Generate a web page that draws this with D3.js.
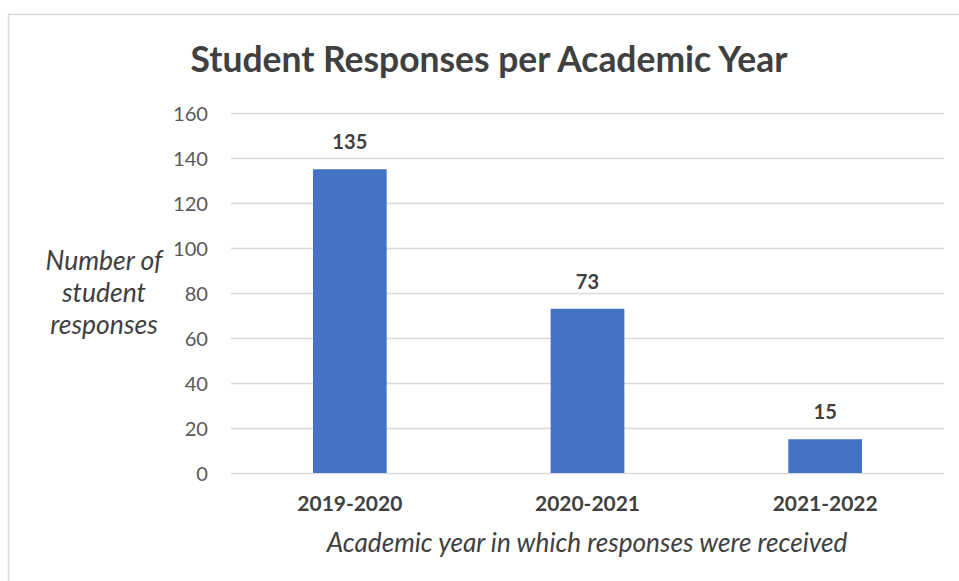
<!DOCTYPE html>
<html><head><meta charset="utf-8">
<script src="https://cdn.jsdelivr.net/npm/d3@7"></script>
<style>body{margin:0;background:#fff;}svg{display:block;font-family:Lato,"Open Sans",sans-serif;}</style>
</head><body>
<svg id="c" width="959" height="581"></svg>
<script>
const categories = ["2019-2020", "2020-2021", "2021-2022"];
const values = [135, 73, 15];
const yTicks = [0, 20, 40, 60, 80, 100, 120, 140, 160];
const titleText = "Student Responses per Academic Year";
const xTitle = "Academic year in which responses were received";
const yTitleLines = ["Number of", "student", "responses"];

(function () {
const svg = d3.select("#c");
svg.append("path").attr("d", "M8.5,581 L8.5,14.5 L959,14.5").attr("fill", "none").attr("stroke", "#d9d9d9").attr("stroke-width", 1.5);

const pLeft = 231, pRight = 944, pTop = 113, pBottom = 473;
const x = d3.scaleBand().domain(categories).range([pLeft, pRight]);
const y = d3.scaleLinear().domain([0, 160]).range([pBottom, pTop]);

function fit(sel, w) {
  const n = sel.node();
  const fs = parseFloat(sel.attr("font-size"));
  const l = n.getComputedTextLength();
  sel.attr("font-size", fs * w / l);
  return fs * w / l;
}

svg.append("g").selectAll("line").data(yTicks).join("line")
  .attr("x1", pLeft).attr("x2", pRight)
  .attr("y1", d => y(d) + 0.5).attr("y2", d => y(d) + 0.5)
  .attr("stroke", "#d9d9d9").attr("stroke-width", 1.3);

const yAxis = d3.axisLeft(y).tickValues(yTicks).tickSize(0).tickPadding(0);
const ga = svg.append("g").attr("transform", `translate(208,0)`).call(yAxis);
ga.select(".domain").remove();
ga.selectAll("text").attr("font-size", 17).attr("fill", "#595959").attr("font-family", "Lato, 'Open Sans', sans-serif").attr("dy", "0.35em");
// size tick labels to match the reference's width for "160"
const probe = ga.selectAll("text").filter(d => d === 160);
const tfs = fit(probe, 35);
ga.selectAll("text").attr("font-size", tfs);

const bw = x.bandwidth() * 0.31;
svg.append("g").selectAll("rect").data(values).join("rect")
  .attr("x", (d, i) => x(categories[i]) + x.bandwidth() / 2 - bw / 2)
  .attr("width", bw)
  .attr("y", d => y(d))
  .attr("height", d => y(0) - y(d))
  .attr("fill", "#4472c4");

const dl = svg.append("g").selectAll("text").data(values).join("text")
  .attr("x", (d, i) => x(categories[i]) + x.bandwidth() / 2)
  .attr("y", d => y(d) - 20)
  .attr("text-anchor", "middle").attr("font-weight", "bold").attr("font-size", 17)
  .attr("fill", "#404040").text(d => d);
const dfs = fit(dl.filter(d => d === 135), 35);
dl.attr("font-size", dfs);

svg.append("g").selectAll("text").data(categories).join("text")
  .attr("x", d => x(d) + x.bandwidth() / 2)
  .attr("y", 511)
  .attr("text-anchor", "middle").attr("font-weight", "bold").attr("font-size", 17)
  .attr("fill", "#404040").text(d => d)
  .each(function() { fit(d3.select(this), 105); });

const t = svg.append("text").attr("x", 489).attr("y", 72).attr("text-anchor", "middle")
  .attr("font-weight", "bold").attr("font-size", 30).attr("fill", "#404040").text(titleText);
fit(t, 597);

const xt = svg.append("text").attr("x", 587).attr("y", 552).attr("text-anchor", "middle")
  .attr("font-style", "italic").attr("font-size", 18).attr("fill", "#404040").text(xTitle);
fit(xt, 521);

const yt = svg.append("g");
const yl = yt.selectAll("text").data(yTitleLines).join("text")
  .attr("x", 104).attr("y", (d, i) => 270 + i * 32).attr("text-anchor", "middle")
  .attr("font-style", "italic").attr("font-size", 18).attr("fill", "#404040").text(d => d);
const yfs = fit(yl.filter((d, i) => i === 0), 117);
yl.attr("font-size", yfs);
})();
</script>
</body></html>
